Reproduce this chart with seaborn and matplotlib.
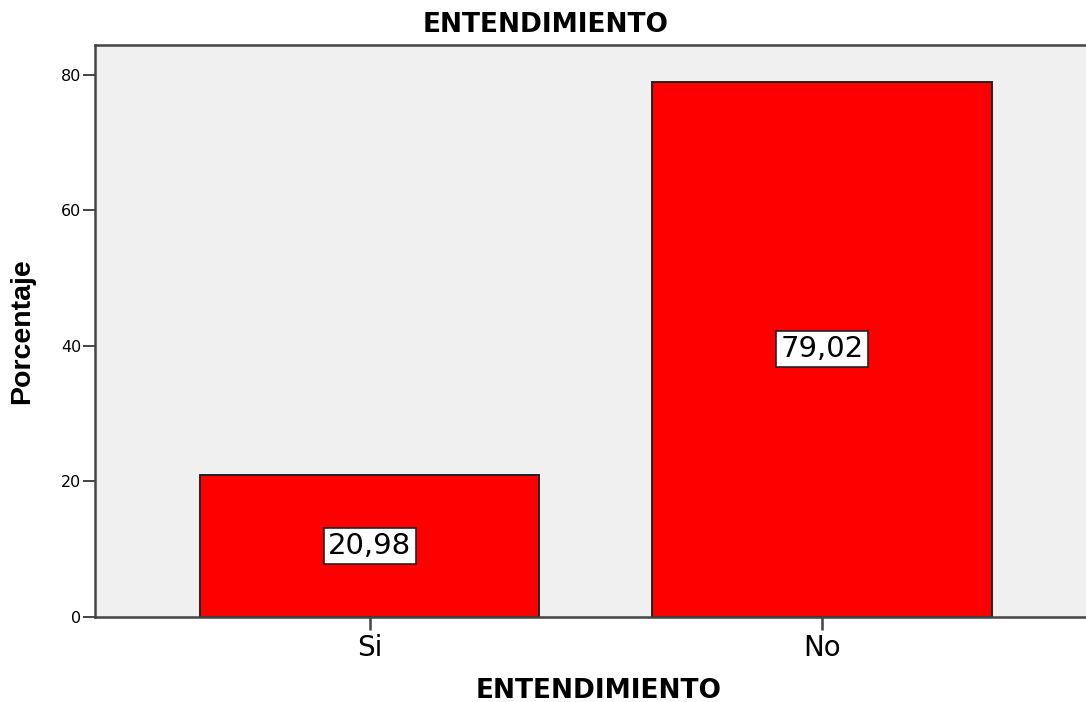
import pandas as pd
import matplotlib.pyplot as plt
import seaborn as sns

# Data
categories = ["Si", "No"]
percentages = [20.98, 79.02]
value_labels = ["20,98", "79,02"]

df = pd.DataFrame({"ENTENDIMIENTO": categories, "Porcentaje": percentages})

sns.set_style("white")
plt.rcParams["font.family"] = ["DejaVu Sans"]
plt.rcParams["text.color"] = "black"
plt.rcParams["axes.labelcolor"] = "black"
plt.rcParams["xtick.labelcolor"] = "black"
plt.rcParams["ytick.labelcolor"] = "black"

fig = plt.figure(figsize=(10.86, 7.02), dpi=100)
ax = fig.add_axes([0.0875, 0.1211, 0.9125, 0.8141])
ax.set_facecolor("#F0F0F0")

sns.barplot(data=df, x="ENTENDIMIENTO", y="Porcentaje", color="#FF0000",
            saturation=1, width=0.75, edgecolor="#222222", linewidth=1.4, ax=ax)

# value labels in the middle of each bar
for i, (val, lab) in enumerate(zip(percentages, value_labels)):
    ax.text(i, val / 2, lab, ha="center", va="center", fontsize=21,
            bbox=dict(boxstyle="square,pad=0.14", facecolor="white",
                      edgecolor="#222222", linewidth=1.2))

ax.set_xlim(-0.608, 1.584)
ax.set_ylim(0, 84.35)
ax.set_yticks([0, 20, 40, 60, 80])

for side in ["left", "bottom", "top"]:
    ax.spines[side].set_color("#444444")
    ax.spines[side].set_linewidth(1.8)
ax.spines["right"].set_visible(False)

ax.tick_params(axis="y", direction="out", length=9, width=1.4, color="#444444",
               labelsize=11.5, pad=1, left=True)
ax.tick_params(axis="x", direction="out", length=9.5, width=1.8, color="#444444",
               labelsize=20, pad=3, bottom=True)

ax.set_title("ENTENDIMIENTO", fontsize=19, fontweight="bold",
             x=0.455, y=1.0236, pad=0)
ax.set_xlabel("ENTENDIMIENTO", fontsize=19, fontweight="bold")
ax.xaxis.set_label_coords(0.508, -0.106)
ax.set_ylabel("Porcentaje", fontsize=20.5, fontweight="bold",
              family="Liberation Sans")
ax.yaxis.set_label_coords(-0.0605, 0.5)

fig.savefig("out.png", dpi=100)
